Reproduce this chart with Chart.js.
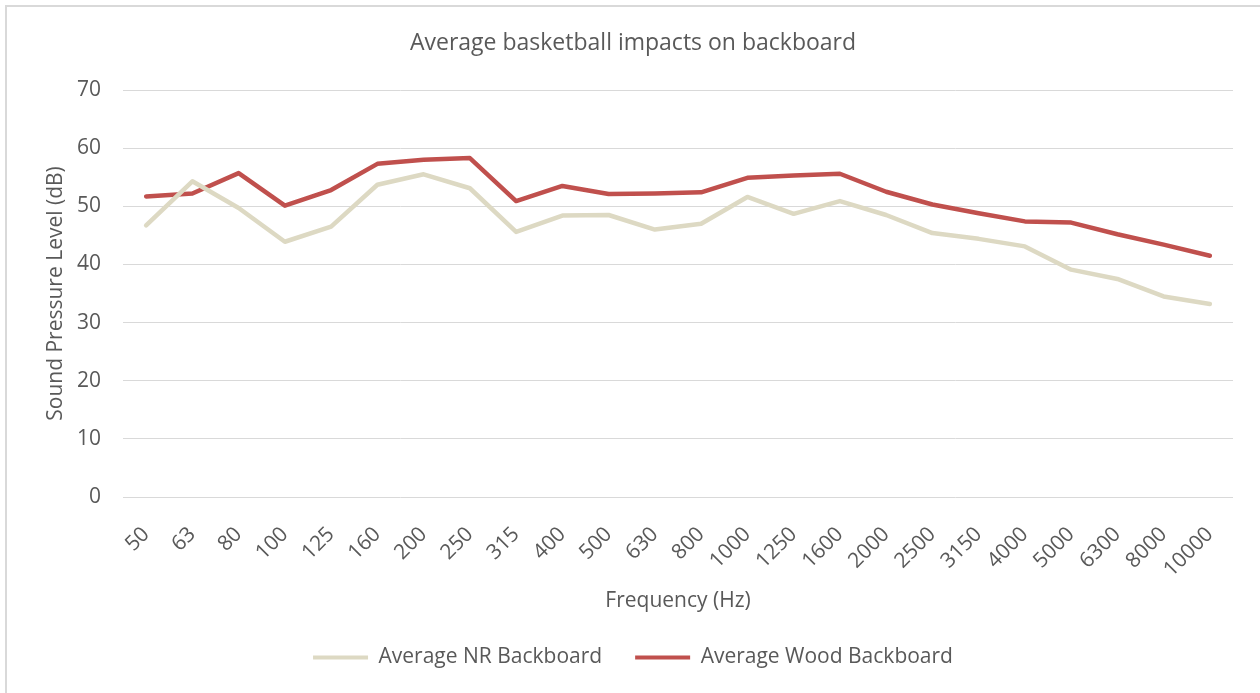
<!DOCTYPE html>
<html>
<head>
<meta charset="utf-8">
<title>Average basketball impacts on backboard</title>
<script src="https://cdn.jsdelivr.net/npm/chart.js@4.4.1/dist/chart.umd.min.js"></script>
<style>
  html, body { margin: 0; padding: 0; background: #ffffff; }
  canvas { display: block; }
</style>
</head>
<body>
<canvas id="chart" width="1260" height="693"></canvas>
<script>
// Third-octave band centre frequencies (Hz)
const frequencies = ['50', '63', '80', '100', '125', '160', '200', '250', '315', '400', '500', '630',
  '800', '1000', '1250', '1600', '2000', '2500', '3150', '4000', '5000', '6300', '8000', '10000'];

// Average sound pressure level per band (dB)
const nrBackboard = [46.7, 54.3, 49.7, 43.9, 46.5, 53.7, 55.5, 53.1, 45.6, 48.4, 48.5, 46.0,
  47.0, 51.6, 48.7, 50.9, 48.5, 45.4, 44.4, 43.1, 39.1, 37.5, 34.5, 33.2];
const woodBackboard = [51.7, 52.2, 55.7, 50.1, 52.8, 57.3, 58.0, 58.3, 50.9, 53.5, 52.1, 52.2,
  52.4, 54.9, 55.3, 55.6, 52.5, 50.3, 48.8, 47.4, 47.2, 45.2, 43.4, 41.5];

// Value axis range
const yMin = 0;
const yMax = 70;
const yStep = 10;

const seriesNames = ['Average NR Backboard', 'Average Wood Backboard'];
const chartTitle = 'Average basketball impacts on backboard';
const xTitle = 'Frequency (Hz)';
const yTitle = 'Sound Pressure Level (dB)';

const TEXT = '#595959';
const GRID = '#D9D9D9';
const FONT = '"Open Sans", "DejaVu Sans", sans-serif';

// Thin frame along the top and left of the chart area
const framePlugin = {
  id: 'frame',
  beforeDraw(chart) {
    const ctx = chart.ctx;
    ctx.save();
    ctx.fillStyle = '#ffffff';
    ctx.fillRect(0, 0, chart.width, chart.height);
    ctx.strokeStyle = GRID;
    ctx.lineWidth = 2;
    ctx.beginPath();
    ctx.moveTo(6, chart.height + 10);
    ctx.lineTo(6, 6);
    ctx.lineTo(chart.width + 10, 6);
    ctx.stroke();
    ctx.restore();
  }
};

new Chart(document.getElementById('chart'), {
  type: 'line',
  data: {
    labels: frequencies,
    datasets: [
      {
        label: seriesNames[0],
        data: nrBackboard,
        borderColor: '#DDD9C3',
        backgroundColor: '#DDD9C3',
        borderWidth: 4.5,
        pointRadius: 0,
        tension: 0,
        borderCapStyle: 'round',
        borderJoinStyle: 'round'
      },
      {
        label: seriesNames[1],
        data: woodBackboard,
        borderColor: '#C0504D',
        backgroundColor: '#C0504D',
        borderWidth: 4.5,
        pointRadius: 0,
        tension: 0,
        borderCapStyle: 'round',
        borderJoinStyle: 'round'
      }
    ]
  },
  options: {
    responsive: false,
    animation: false,
    devicePixelRatio: 1,
    layout: { padding: { left: 33, right: 27, top: 10, bottom: 15 } },
    plugins: {
      title: {
        display: true,
        text: chartTitle,
        color: TEXT,
        font: { family: FONT, size: 23, weight: 'normal' },
        padding: { top: 19.2, bottom: 33.2 }
      },
      legend: {
        position: 'bottom',
        labels: {
          color: TEXT,
          font: { family: FONT, size: 21 },
          boxWidth: 55,
          boxHeight: 4,
          padding: 33,
          useBorderRadius: true,
          borderRadius: 2,
          generateLabels(chart) {
            return chart.data.datasets.map((ds, i) => ({
              text: ds.label,
              fillStyle: ds.borderColor,
              strokeStyle: ds.borderColor,
              lineWidth: 0,
              fontColor: TEXT,
              hidden: false,
              datasetIndex: i
            }));
          }
        }
      },
      tooltip: { enabled: false }
    },
    scales: {
      x: {
        offset: true,
        grid: { display: false, drawTicks: false },
        border: { display: false },
        ticks: {
          color: TEXT,
          font: { family: FONT, size: 21 },
          autoSkip: false,
          minRotation: 45,
          maxRotation: 45,
          padding: 25
        },
        title: {
          display: true,
          text: xTitle,
          color: TEXT,
          font: { family: FONT, size: 21 },
          padding: { top: 0, bottom: 0 }
        },
        afterFit(scale) {
          scale.height = 117;
          scale.paddingLeft = 0;
          scale.paddingRight = 0;
        }
      },
      y: {
        min: yMin,
        max: yMax,
        grid: { color: GRID, lineWidth: 1, drawTicks: false },
        border: { display: false },
        ticks: {
          stepSize: yStep,
          color: TEXT,
          font: { family: FONT, size: 21 },
          padding: 22
        },
        title: {
          display: true,
          text: yTitle,
          color: TEXT,
          font: { family: FONT, size: 21 },
          padding: { top: 10.4, bottom: 0 }
        },
        afterFit(scale) { scale.width = 90; }
      }
    }
  },
  plugins: [framePlugin]
});
</script>
</body>
</html>
